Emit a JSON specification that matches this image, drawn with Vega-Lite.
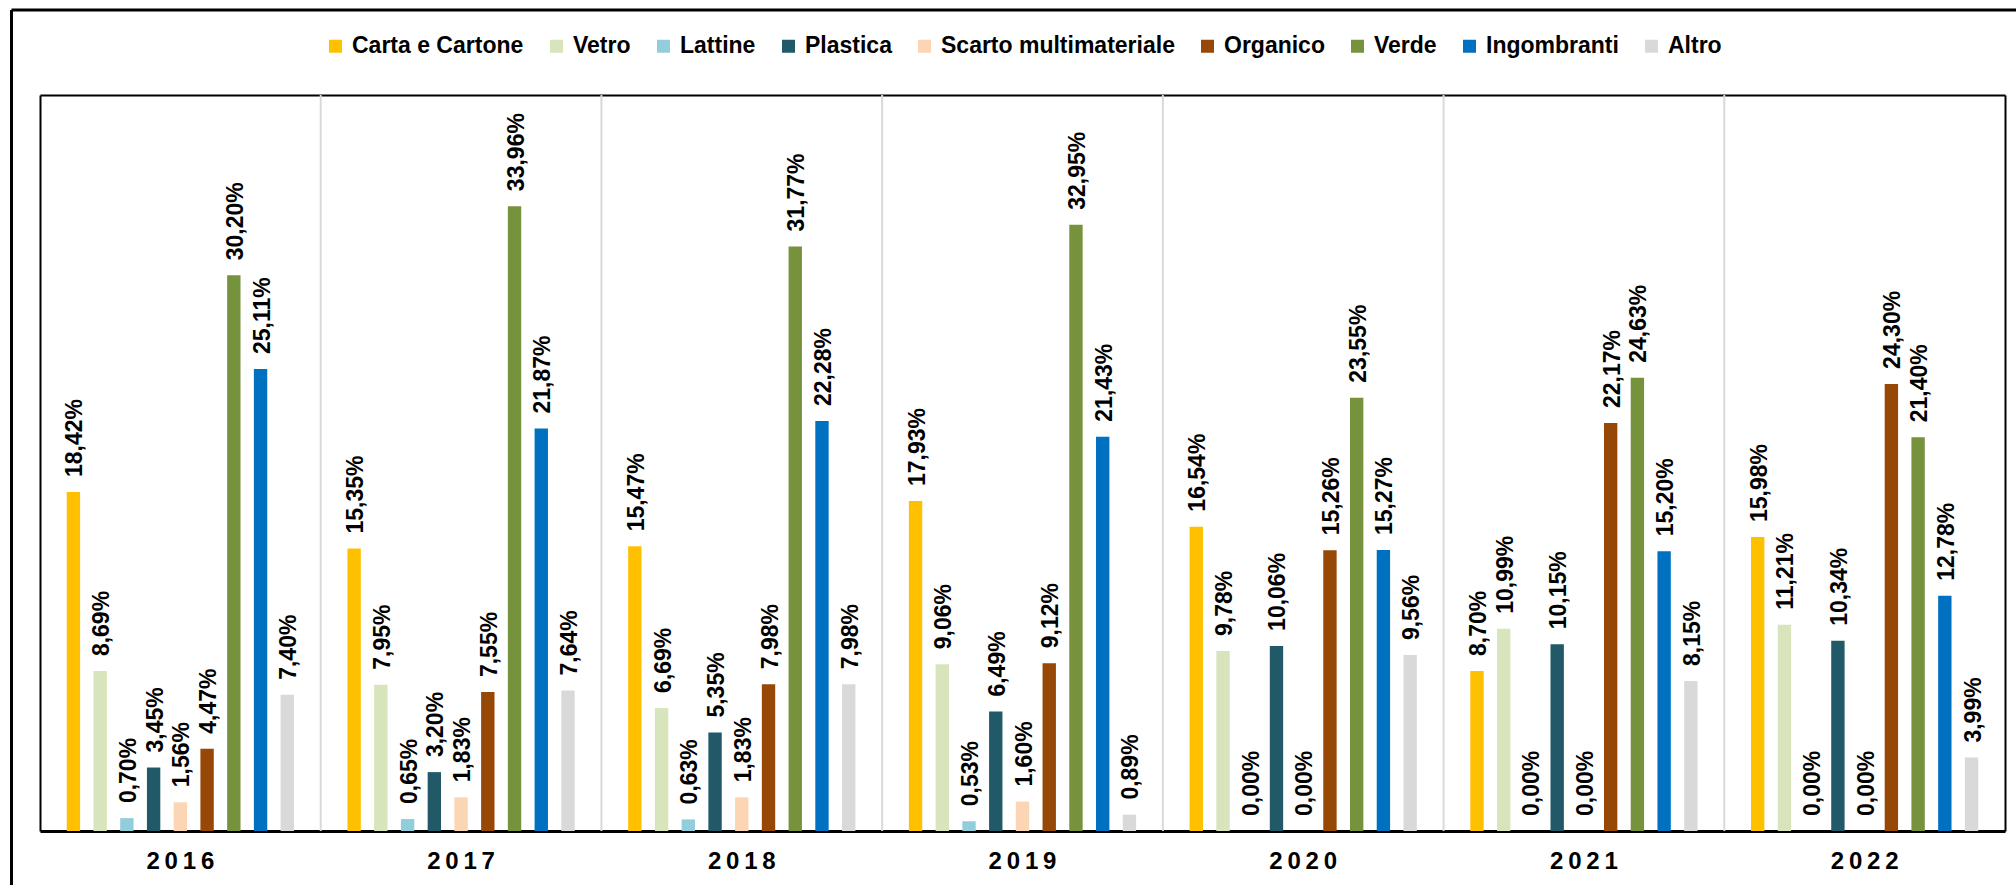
{
  "$schema": "https://vega.github.io/schema/vega-lite/v6.json",
  "width": 2005,
  "height": 875,
  "autosize": {"type": "none"},
  "padding": {"left": 11, "top": 9.5, "right": 0, "bottom": 0},
  "background": "white",
  "config": {
    "view": {"stroke": null},
    "font": "Liberation Sans",
    "axis": {"grid": false}
  },
  "layer": [
    {
      "data": {
        "values": [
          {"year": 2016, "cat": "Carta e Cartone", "value": 18.42},
          {"year": 2016, "cat": "Vetro", "value": 8.69},
          {"year": 2016, "cat": "Lattine", "value": 0.70},
          {"year": 2016, "cat": "Plastica", "value": 3.45},
          {"year": 2016, "cat": "Scarto multimateriale", "value": 1.56},
          {"year": 2016, "cat": "Organico", "value": 4.47},
          {"year": 2016, "cat": "Verde", "value": 30.20},
          {"year": 2016, "cat": "Ingombranti", "value": 25.11},
          {"year": 2016, "cat": "Altro", "value": 7.40},
          {"year": 2017, "cat": "Carta e Cartone", "value": 15.35},
          {"year": 2017, "cat": "Vetro", "value": 7.95},
          {"year": 2017, "cat": "Lattine", "value": 0.65},
          {"year": 2017, "cat": "Plastica", "value": 3.20},
          {"year": 2017, "cat": "Scarto multimateriale", "value": 1.83},
          {"year": 2017, "cat": "Organico", "value": 7.55},
          {"year": 2017, "cat": "Verde", "value": 33.96},
          {"year": 2017, "cat": "Ingombranti", "value": 21.87},
          {"year": 2017, "cat": "Altro", "value": 7.64},
          {"year": 2018, "cat": "Carta e Cartone", "value": 15.47},
          {"year": 2018, "cat": "Vetro", "value": 6.69},
          {"year": 2018, "cat": "Lattine", "value": 0.63},
          {"year": 2018, "cat": "Plastica", "value": 5.35},
          {"year": 2018, "cat": "Scarto multimateriale", "value": 1.83},
          {"year": 2018, "cat": "Organico", "value": 7.98},
          {"year": 2018, "cat": "Verde", "value": 31.77},
          {"year": 2018, "cat": "Ingombranti", "value": 22.28},
          {"year": 2018, "cat": "Altro", "value": 7.98},
          {"year": 2019, "cat": "Carta e Cartone", "value": 17.93},
          {"year": 2019, "cat": "Vetro", "value": 9.06},
          {"year": 2019, "cat": "Lattine", "value": 0.53},
          {"year": 2019, "cat": "Plastica", "value": 6.49},
          {"year": 2019, "cat": "Scarto multimateriale", "value": 1.60},
          {"year": 2019, "cat": "Organico", "value": 9.12},
          {"year": 2019, "cat": "Verde", "value": 32.95},
          {"year": 2019, "cat": "Ingombranti", "value": 21.43},
          {"year": 2019, "cat": "Altro", "value": 0.89},
          {"year": 2020, "cat": "Carta e Cartone", "value": 16.54},
          {"year": 2020, "cat": "Vetro", "value": 9.78},
          {"year": 2020, "cat": "Lattine", "value": 0.00},
          {"year": 2020, "cat": "Plastica", "value": 10.06},
          {"year": 2020, "cat": "Scarto multimateriale", "value": 0.00},
          {"year": 2020, "cat": "Organico", "value": 15.26},
          {"year": 2020, "cat": "Verde", "value": 23.55},
          {"year": 2020, "cat": "Ingombranti", "value": 15.27},
          {"year": 2020, "cat": "Altro", "value": 9.56},
          {"year": 2021, "cat": "Carta e Cartone", "value": 8.70},
          {"year": 2021, "cat": "Vetro", "value": 10.99},
          {"year": 2021, "cat": "Lattine", "value": 0.00},
          {"year": 2021, "cat": "Plastica", "value": 10.15},
          {"year": 2021, "cat": "Scarto multimateriale", "value": 0.00},
          {"year": 2021, "cat": "Organico", "value": 22.17},
          {"year": 2021, "cat": "Verde", "value": 24.63},
          {"year": 2021, "cat": "Ingombranti", "value": 15.20},
          {"year": 2021, "cat": "Altro", "value": 8.15},
          {"year": 2022, "cat": "Carta e Cartone", "value": 15.98},
          {"year": 2022, "cat": "Vetro", "value": 11.21},
          {"year": 2022, "cat": "Lattine", "value": 0.00},
          {"year": 2022, "cat": "Plastica", "value": 10.34},
          {"year": 2022, "cat": "Scarto multimateriale", "value": 0.00},
          {"year": 2022, "cat": "Organico", "value": 24.30},
          {"year": 2022, "cat": "Verde", "value": 21.40},
          {"year": 2022, "cat": "Ingombranti", "value": 12.78},
          {"year": 2022, "cat": "Altro", "value": 3.99}
        ]
      },
      "transform": [
        {"calculate": "replace(format(datum.value, '.2f'), '.', ',') + '%'", "as": "label"}
      ],
      "layer": [
        {
          "data": {"values": [{"year": 2017}, {"year": 2018}, {"year": 2019}, {"year": 2020}, {"year": 2021}, {"year": 2022}]},
          "mark": {"type": "rule", "color": "#D9D9D9", "strokeWidth": 2},
          "encoding": {
            "x": {
              "field": "year", "type": "nominal", "bandPosition": 0,
              "axis": {"orient": "top", "offset": -85.5, "labels": false, "ticks": false, "title": null, "domainColor": "black", "domainWidth": 2, "grid": false}
            },
            "y": {
              "datum": 0, "type": "quantitative",
              "axis": {"orient": "right", "offset": -11, "labels": false, "ticks": false, "title": null, "domainColor": "black", "domainWidth": 2, "grid": false}
            },
            "y2": {"datum": 40}
          }
        },
        {
          "mark": {"type": "bar"},
          "encoding": {
            "x": {
              "field": "year", "type": "nominal",
              "scale": {"range": [29, 1994], "paddingInner": 0, "paddingOuter": 0},
              "axis": {"orient": "bottom", "offset": -53.5, "labelAngle": 0, "labelFontSize": 24, "labelFontWeight": "bold", "labelColor": "black", "labelPadding": 18, "ticks": false, "tickSize": 0, "title": null, "domainColor": "black", "domainWidth": 3, "grid": false,
                "labelExpr": "join(split(datum.label, ''), '\u2009')"}
            },
            "y": {
              "field": "value", "type": "quantitative",
              "scale": {"domain": [0, 40], "range": [821.5, 85.5], "nice": false},
              "axis": {"orient": "left", "offset": -29, "labels": false, "ticks": false, "title": null, "domainColor": "black", "domainWidth": 2, "grid": false}
            },
            "xOffset": {
              "field": "cat", "type": "nominal",
              "scale": {"domain": ["Carta e Cartone", "Vetro", "Lattine", "Plastica", "Scarto multimateriale", "Organico", "Verde", "Ingombranti", "Altro"], "paddingInner": 0.5, "paddingOuter": 1.2}
            },
            "color": {
              "field": "cat", "type": "nominal",
              "scale": {
                "domain": ["Carta e Cartone", "Vetro", "Lattine", "Plastica", "Scarto multimateriale", "Organico", "Verde", "Ingombranti", "Altro"],
                "range": ["#FFC000", "#D8E4BC", "#92CDDC", "#215968", "#FCD5B4", "#974706", "#76923C", "#0070C0", "#D9D9D9"]
              },
              "legend": {
                "orient": "none", "direction": "horizontal", "legendX": 313, "legendY": 25,
                "title": null, "symbolType": "square", "symbolSize": 169, "symbolStrokeWidth": 0,
                "labelFontSize": 23, "labelFontWeight": "bold", "labelColor": "black", "labelFont": "Liberation Sans",
                "labelOffset": 5, "columnPadding": 21, "labelLimit": 400, "padding": 0
              }
            }
          }
        },
        {
          "mark": {"type": "text", "angle": -90, "align": "left", "baseline": "middle", "dx": 15, "dy": 2, "fontSize": 23, "fontWeight": "bold", "color": "black", "font": "Liberation Sans"},
          "encoding": {
            "x": {"field": "year", "type": "nominal", "axis": null},
            "y": {"field": "value", "type": "quantitative", "axis": null},
            "xOffset": {"field": "cat", "type": "nominal"},
            "text": {"field": "label", "type": "nominal"}
          }
        }
      ],
      "resolve": {"axis": {"x": "independent", "y": "independent"}}
    },
    {
      "data": {"values": [{"f": 0}]},
      "mark": {"type": "point", "opacity": 0},
      "encoding": {
        "x": {
          "field": "f", "type": "quantitative", "scale": {"domain": [0, 1]},
          "axis": {"orient": "top", "offset": 0, "labels": false, "ticks": false, "title": null, "domainColor": "black", "domainWidth": 3, "grid": false}
        },
        "y": {
          "field": "f", "type": "quantitative", "scale": {"domain": [0, 1]},
          "axis": {"orient": "left", "offset": 0, "labels": false, "ticks": false, "title": null, "domainColor": "black", "domainWidth": 3, "grid": false}
        }
      }
    }
  ],
  "resolve": {"scale": {"x": "independent", "y": "independent"}}
}
